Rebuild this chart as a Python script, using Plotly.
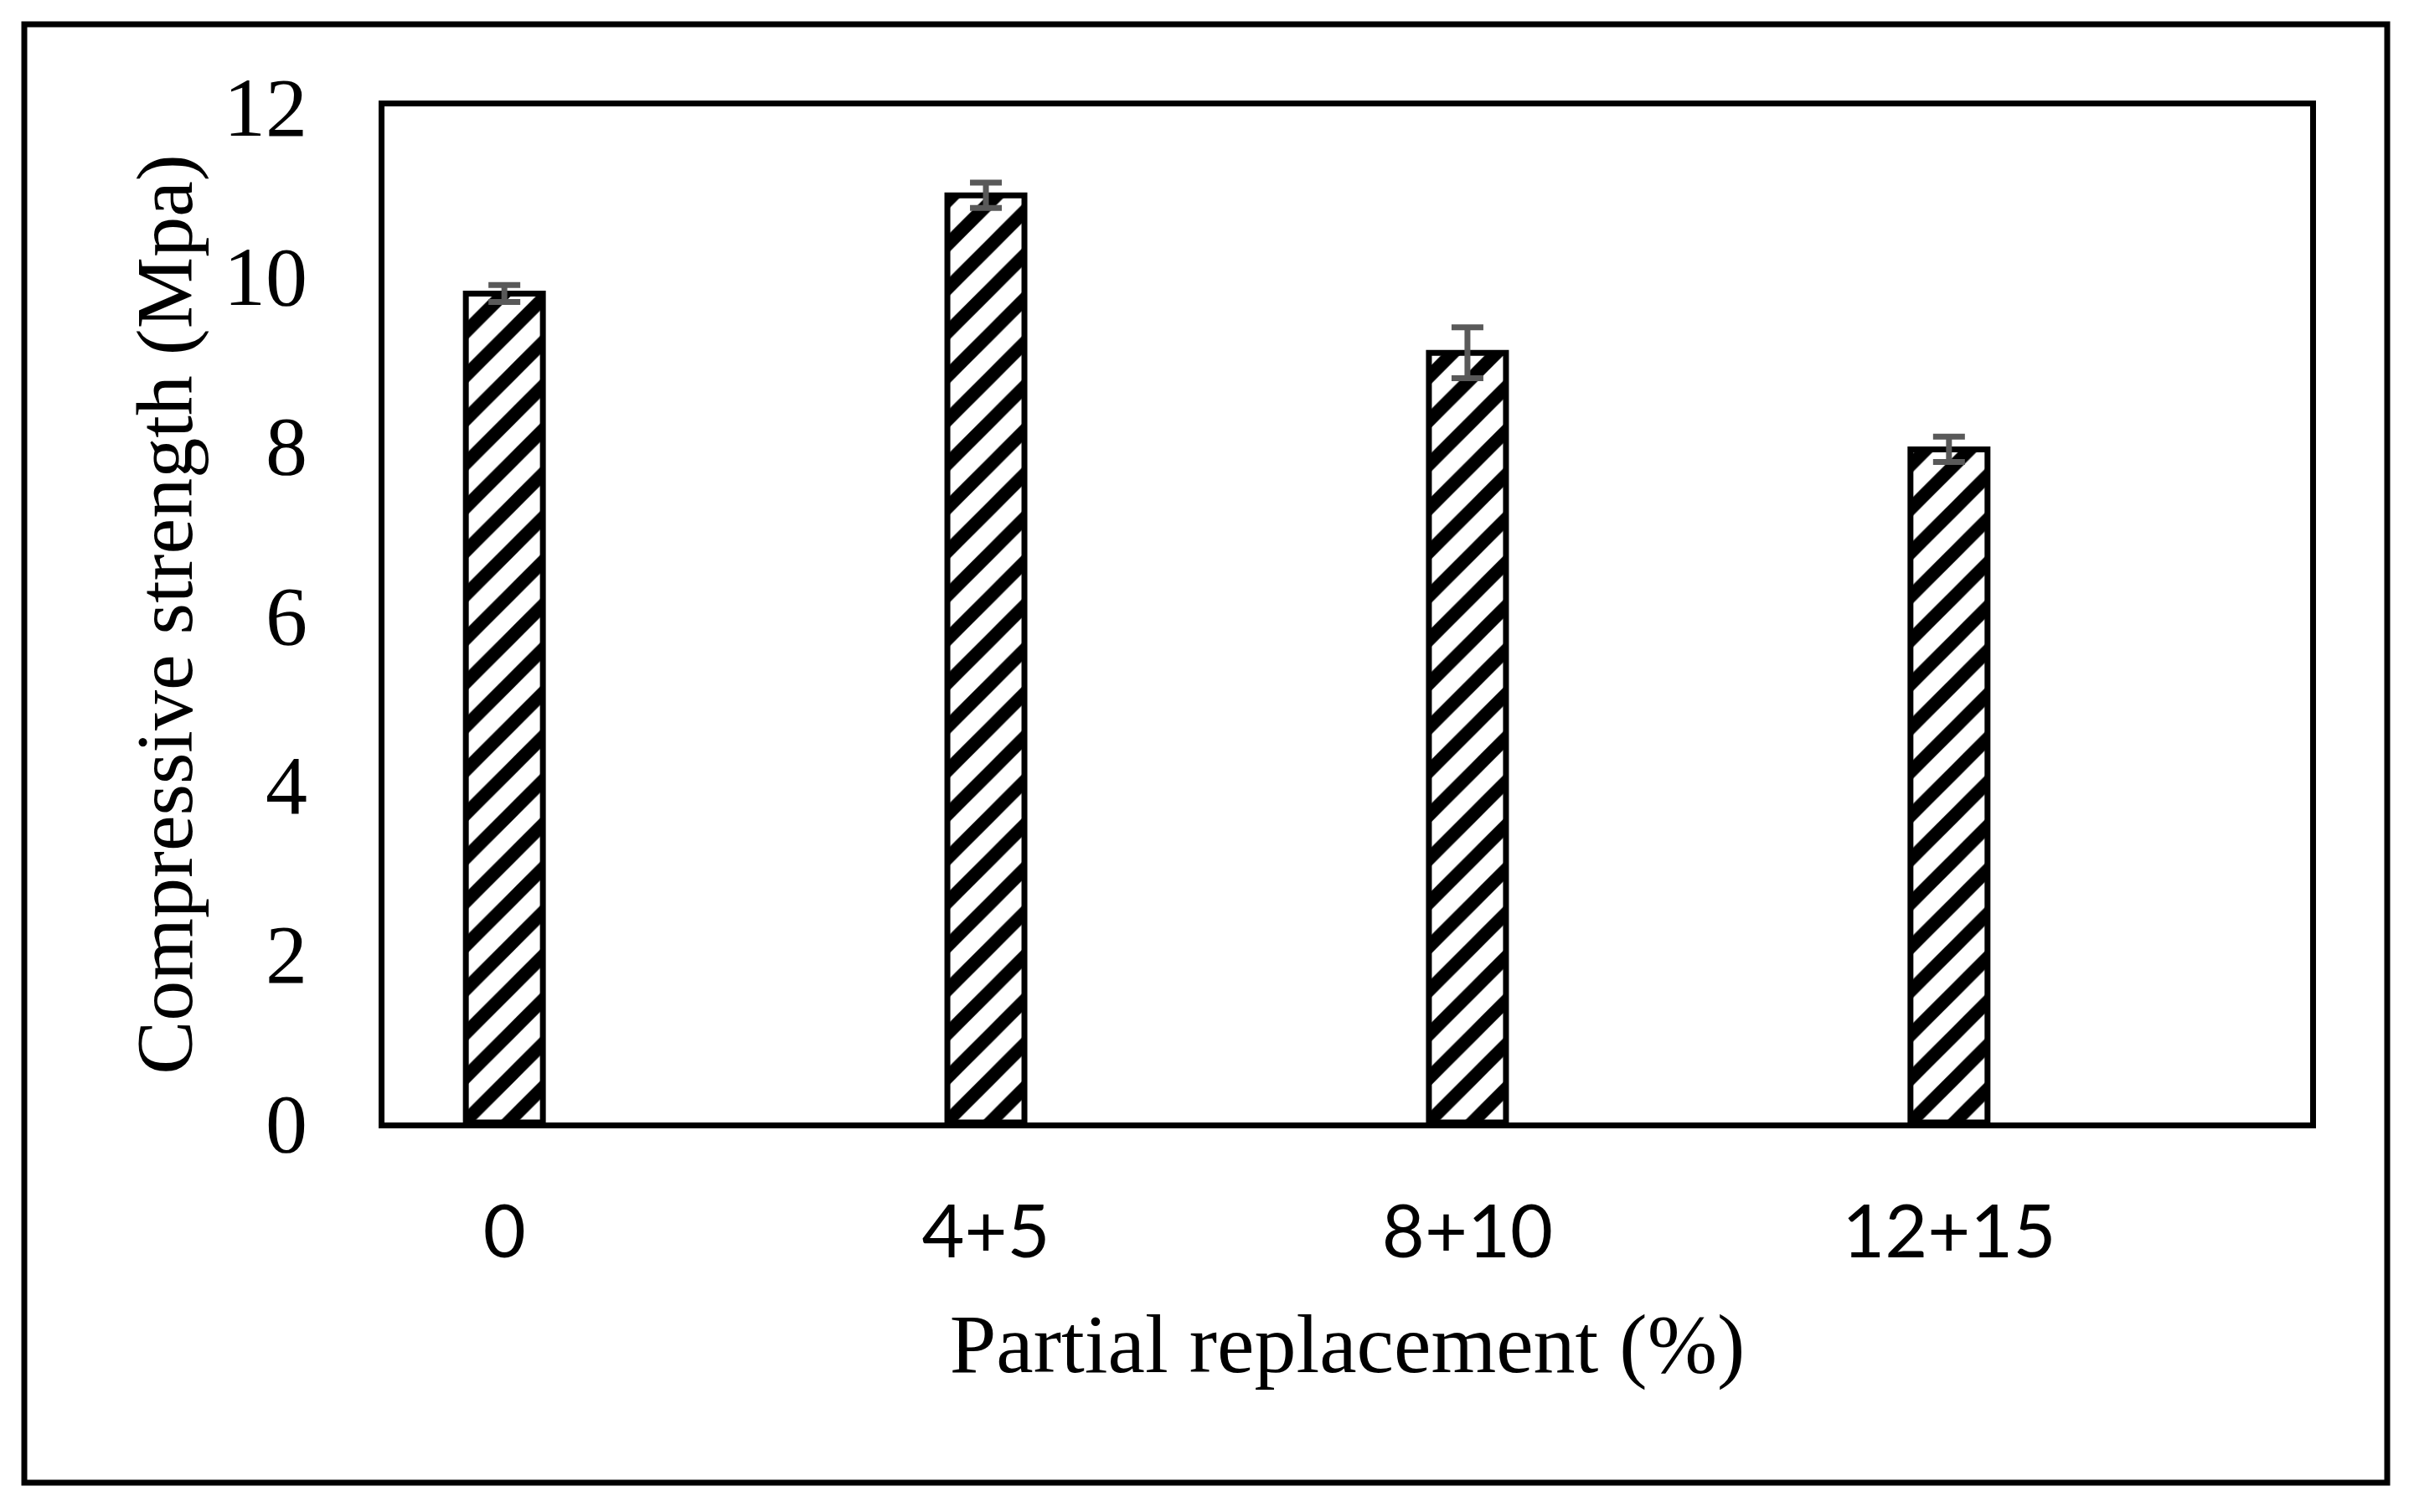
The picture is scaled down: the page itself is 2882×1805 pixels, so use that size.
import plotly.graph_objects as go

categories = ["0", "4+5", "8+10", "12+15"]
strength = [9.79, 10.95, 9.09, 7.95]
errors = [0.10, 0.15, 0.30, 0.15]
y_ticks = [0, 2, 4, 6, 8, 10, 12]

W, H = 2882, 1805
L, R, T, B = 459, 2882 - 2758, 127, 1805 - 1340
pw, ph = W - L - R, H - T - B

fig = go.Figure()
fig.add_trace(go.Bar(
    x=categories,
    y=strength,
    width=0.16,
    marker=dict(
        color="white",
        line=dict(color="black", width=7),
        pattern=dict(shape="/", fgcolor="black", bgcolor="white", fgopacity=1,
                     size=37, solidity=0.42, fillmode="overlay"),
    ),
    error_y=dict(type="data", array=errors, visible=True, color="#595959", thickness=7, width=19),
    showlegend=False,
))

serif = "Liberation Serif, Times New Roman, serif"

fig.update_layout(
    width=W, height=H,
    margin=dict(l=L, r=R, t=T, b=B, pad=0),
    paper_bgcolor="white",
    plot_bgcolor="white",
    xaxis=dict(
        type="category",
        range=[-0.249, 3.75],
        showgrid=False,
        showline=True, linecolor="black", linewidth=7, mirror=True,
        ticks="", ticklabelstandoff=48,
        tickfont=dict(family="Lato, sans-serif", size=88, color="black"),
        title=dict(text="Partial replacement (%)", font=dict(family=serif, size=100, color="black"), standoff=52),
    ),
    yaxis=dict(
        range=[0, 12],
        tickvals=y_ticks,
        showgrid=False,
        showline=True, linecolor="black", linewidth=7, mirror=True,
        ticks="", ticklabelstandoff=65,
        tickfont=dict(family=serif, size=100, color="black"),
        title=dict(text="Compressive strength (Mpa)", font=dict(family=serif, size=96, color="black"), standoff=8),
        zeroline=False,
    ),
    shapes=[dict(
        type="rect", xref="paper", yref="paper",
        x0=(29 - L) / pw, x1=(2850 - L) / pw,
        y0=(H - B - 1770) / ph, y1=(H - B - 29) / ph,
        line=dict(color="black", width=7), fillcolor="rgba(0,0,0,0)", layer="above",
    )],
)

fig.write_html("out.html", config={"displayModeBar": False},
               post_script="document.body.style.margin='0';")
